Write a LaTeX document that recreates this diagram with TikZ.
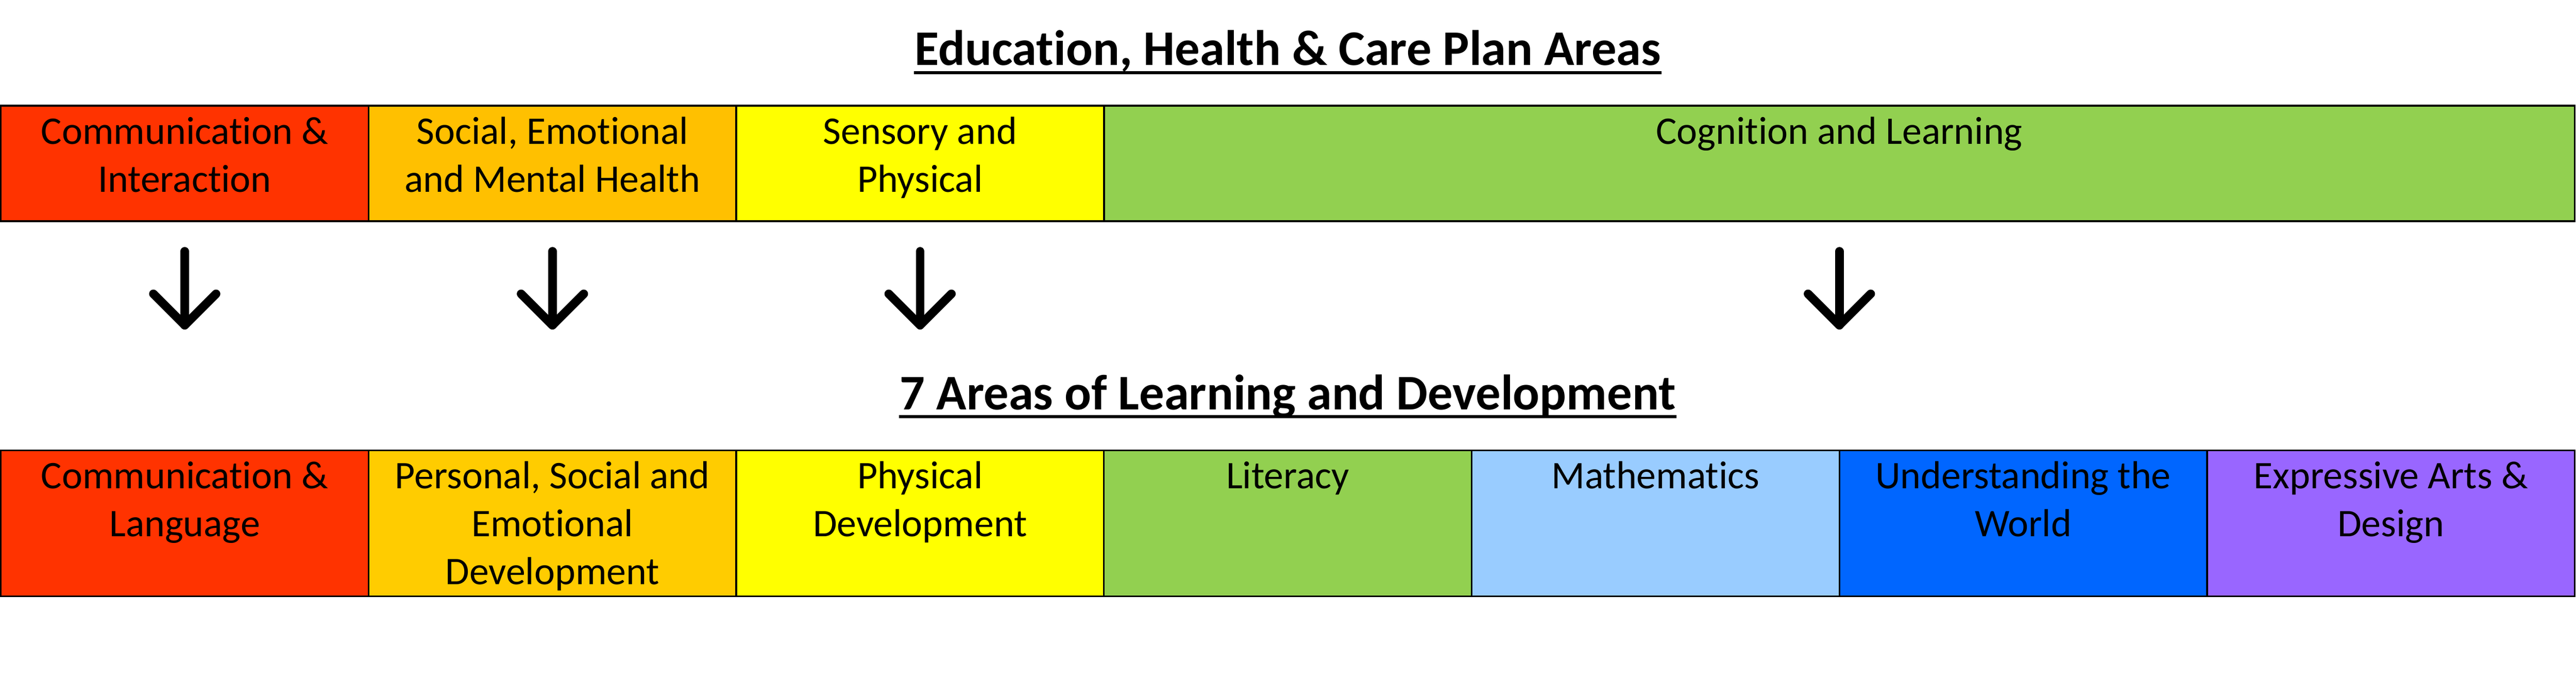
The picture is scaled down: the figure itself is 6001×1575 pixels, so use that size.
\documentclass[tikz,border=0pt]{standalone}
\usepackage{fontspec}
\setmainfont{Carlito}[Ligatures=CommonOff]
\usetikzlibrary{calc}
\definecolor{cRed}{HTML}{FF3300}
\definecolor{cAmberA}{HTML}{FFC000}
\definecolor{cAmberB}{HTML}{FFCC00}
\definecolor{cYellow}{HTML}{FFFF00}
\definecolor{cGreen}{HTML}{92D050}
\definecolor{cLightBlue}{HTML}{99CCFF}
\definecolor{cBlue}{HTML}{0066FF}
\definecolor{cPurple}{HTML}{9966FF}
\begin{document}
\begin{tikzpicture}[x=0.1pt,y=-0.1pt,
  box/.style={draw=black,line width=0.4pt,inner sep=0pt,outer sep=0pt,minimum width=85.66pt},
  toprow/.style={box,minimum height=26.9pt},
  botrow/.style={box,minimum height=34pt},
  lbl/.style={anchor=base,align=center,inner sep=0pt,font=\fontsize{9.1pt}{11.2pt}\selectfont},
  ttl/.style={anchor=base,inner sep=0pt,font=\bfseries\fontsize{11.6pt}{14pt}\selectfont},
  uline/.style={line width=0.77pt},
  arr/.style={line width=2pt,line cap=round,line join=round}]

\useasboundingbox (0,0) rectangle (6001,1575);

% titles
\node[ttl] (title1) at (3000,152) {Education, Health \& Care Plan Areas};
\draw[uline] ([yshift=-1.7pt]title1.base west) -- ([yshift=-1.7pt]title1.base east);
\node[ttl] (title2) at (3000,953) {7 Areas of Learning and Development};
\draw[uline] ([yshift=-1.7pt]title2.base west) -- ([yshift=-1.7pt]title2.base east);

% top row
\node[toprow,fill=cRed] (t1) at (430.3,380.5) {};
\node[toprow,fill=cAmberA] (t2) at (1286.9,380.5) {};
\node[toprow,fill=cYellow] (t3) at (2143.4,380.5) {};
\node[toprow,fill=cGreen,minimum width=342.63pt] (t4) at (4284.9,380.5) {};
% anchor=base sits on the last line's baseline
\node[lbl] (t1l) at (430.3,447) {Communication \&\\Interaction};
\node[lbl] (t2l) at (1286.9,447) {Social, Emotional\\and Mental Health};
\node[lbl] (t3l) at (2143.4,447) {Sensory and\\Physical};
\node[lbl] (t4l) at (4284.9,335) {Cognition and Learning};

% arrows
\foreach \i/\x in {1/430.3,2/1286.9,3/2143.4,4/4284.9}{
  \coordinate (a\i s) at (\x,585);
  \coordinate (a\i e) at (\x,757);
  \draw[arr] (a\i s) -- (a\i e);
  \draw[arr] ($(a\i e)+(-73,-73)$) -- (a\i e) -- ($(a\i e)+(73,-73)$);
}

% bottom row
\node[botrow,fill=cRed] (b1) at (430.3,1218) {};
\node[botrow,fill=cAmberB] (b2) at (1286.9,1218) {};
\node[botrow,fill=cYellow] (b3) at (2143.4,1218) {};
\node[botrow,fill=cGreen] (b4) at (3000,1218) {};
\node[botrow,fill=cLightBlue] (b5) at (3856.6,1218) {};
\node[botrow,fill=cBlue] (b6) at (4713.1,1218) {};
\node[botrow,fill=cPurple] (b7) at (5569.7,1218) {};
\node[lbl] (b1l) at (430.3,1249) {Communication \&\\Language};
\node[lbl] (b2l) at (1286.9,1361) {Personal, Social and\\Emotional\\Development};
\node[lbl] (b3l) at (2143.4,1249) {Physical\\Development};
\node[lbl] (b4l) at (3000,1137) {Literacy};
\node[lbl] (b5l) at (3856.6,1137) {Mathematics};
\node[lbl] (b6l) at (4713.1,1249) {Understanding the\\World};
\node[lbl] (b7l) at (5569.7,1249) {Expressive Arts \&\\Design};
\end{tikzpicture}
\end{document}
